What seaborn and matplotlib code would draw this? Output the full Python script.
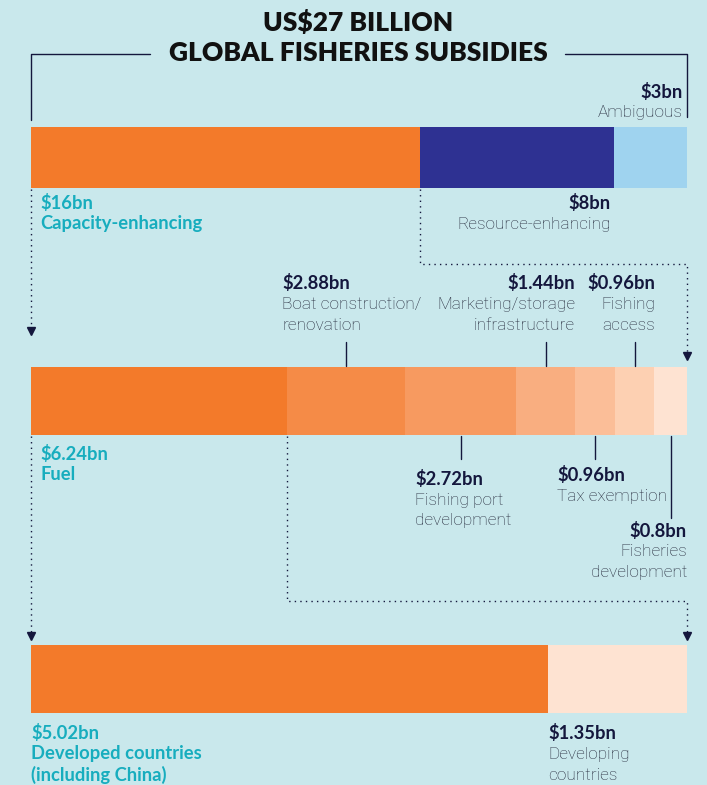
import matplotlib
matplotlib.use("Agg")
import matplotlib.pyplot as plt
import seaborn as sns
import pandas as pd
import numpy as np

# --- data ---------------------------------------------------------------
top_labels = ["Capacity-enhancing", "Resource-enhancing", "Ambiguous"]
top_values = [16, 8, 3]
top_colors = ["#f37a2a", "#2e3192", "#9fd3ef"]

cap_labels = ["Fuel", "Boat construction/\nrenovation", "Fishing port\ndevelopment",
              "Marketing/storage\ninfrastructure", "Tax exemption", "Fishing\naccess",
              "Fisheries\ndevelopment"]
cap_values = [6.24, 2.88, 2.72, 1.44, 0.96, 0.96, 0.8]
cap_colors = ["#f37a2a", "#f58b47", "#f79a60", "#f9ae80", "#fbbe98", "#fdd0b2", "#fee3d2"]

fuel_labels = ["Developed countries\n(including China)", "Developing\ncountries"]
fuel_values = [5.02, 1.35]
fuel_colors = ["#f37a2a", "#fee3d2"]

BG = "#c9e8ec"
NAVY = "#14173d"
GREY = "#252a3c"
TEAL = "#17adbe"
BOLD = ["Lato", "DejaVu Sans"]
LIGHT = ["Roboto", "DejaVu Sans"]

W, H = 707, 785
X0, X1 = 31, 687

sns.set_theme(style="white")
fig = plt.figure(figsize=(W / 100, H / 100), dpi=100, facecolor=BG)


def frac(x0, y0, x1, y1):
    return [x0 / W, 1 - y1 / H, (x1 - x0) / W, (y1 - y0) / H]


def stacked(values, colors, labels, y0, y1):
    ax = fig.add_axes(frac(X0, y0, X1, y1))
    df = pd.DataFrame({"segment": labels, "cum": np.cumsum(values), "row": "all"})
    order = labels[::-1]  # draw largest cumulative first so smaller sit on top
    sns.barplot(data=df, x="cum", y="row", hue="segment", hue_order=order,
                palette=dict(zip(labels, colors)), dodge=False, width=1,
                saturation=1, legend=False, linewidth=0, ax=ax)
    ax.set_xlim(0, sum(values))
    ax.set_ylim(0.5, -0.5)
    ax.axis("off")
    return ax


def px(values, i, where=1.0):
    # pixel x of a segment boundary / centre, from the data
    cum = np.concatenate([[0], np.cumsum(values)])
    v = cum[i] + where * values[i]
    return X0 + v / sum(values) * (X1 - X0)


stacked(top_values, top_colors, top_labels, 127, 188)
stacked(cap_values, cap_colors, cap_labels, 367, 435)
stacked(fuel_values, fuel_colors, fuel_labels, 645, 713)

ov = fig.add_axes([0, 0, 1, 1], zorder=5)
ov.set_xlim(0, W)
ov.set_ylim(H, 0)
ov.axis("off")
ov.patch.set_alpha(0)


def label(x, y, value, text, ha="left", vcol=NAVY, tcol=GREY, bold_text=False):
    ov.text(x, y, value, ha=ha, va="center", fontsize=13.2, fontweight="bold",
            family=BOLD, color=vcol)
    for k, line in enumerate(text.split("\n")):
        if bold_text:
            ov.text(x, y + 21 * (k + 1), line, ha=ha, va="center", fontsize=13.2,
                    fontweight="bold", family=BOLD, color=vcol)
        else:
            ov.text(x, y + 21 * (k + 1), line, ha=ha, va="center", fontsize=12.4,
                    fontweight="light", family=LIGHT, color=tcol)


# title + bracket
ov.text(358, 22, "US$27 BILLION", ha="center", va="center", fontsize=19,
        fontweight="heavy", family=BOLD, color="#111111")
ov.text(358, 53, "GLOBAL FISHERIES SUBSIDIES", ha="center", va="center",
        fontsize=19, fontweight="heavy", family=BOLD, color="#111111")
ov.plot([X0, X0, 150], [120, 54, 54], color=NAVY, lw=1)
ov.plot([565, X1, X1], [54, 54, 117], color=NAVY, lw=1)

# top bar labels
label(683, 92, "$3bn", "Ambiguous", ha="right")
label(40, 203, "$16bn", "Capacity-enhancing", vcol=TEAL, bold_text=True)
label(611, 203, "$8bn", "Resource-enhancing", ha="right")

# dotted connectors to second bar
dot = dict(color=NAVY, lw=1, ls=(0, (1, 3)))
xb = px(top_values, 0)
ov.plot([X0, X0], [189, 327], **dot)
ov.plot([xb, xb, X1, X1], [189, 264, 264, 352], **dot)
ov.plot([X0], [331], marker="v", color=NAVY, ms=6)
ov.plot([X1], [356], marker="v", color=NAVY, ms=6)

# second bar labels
label(282, 283, "$2.88bn", cap_labels[1])
label(575, 283, "$1.44bn", cap_labels[3], ha="right")
label(655, 283, "$0.96bn", cap_labels[5], ha="right")
for i in (1, 3, 5):
    xc = px(cap_values, i, 0.5)
    ov.plot([xc, xc], [342, 366], color=NAVY, lw=1)

label(40, 454, "$6.24bn", "Fuel", vcol=TEAL, bold_text=True)
label(415, 479, "$2.72bn", cap_labels[2])
label(557, 475, "$0.96bn", cap_labels[4])
label(687, 531, "$0.8bn", cap_labels[6], ha="right")
for i, yend in ((2, 459), (4, 459), (6, 518)):
    xc = px(cap_values, i, 0.5)
    ov.plot([xc, xc], [436, yend], color=NAVY, lw=1)

# dotted connectors to third bar
xf = px(cap_values, 0)
ov.plot([X0, X0], [436, 632], **dot)
ov.plot([xf, xf, X1, X1], [436, 601, 601, 632], **dot)
ov.plot([X0], [636], marker="v", color=NAVY, ms=6)
ov.plot([X1], [636], marker="v", color=NAVY, ms=6)

# third bar labels
label(31, 733, "$5.02bn", fuel_labels[0], vcol=TEAL, bold_text=True)
label(px(fuel_values, 0), 733, "$1.35bn", fuel_labels[1])

fig.savefig("out.png", dpi=100, facecolor=BG)
